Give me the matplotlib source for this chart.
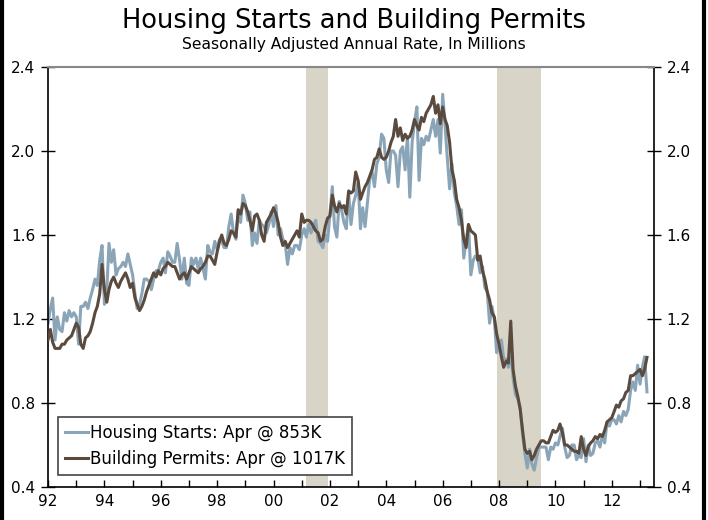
import numpy as np
import pandas as pd
import matplotlib
matplotlib.use("Agg")
import matplotlib.pyplot as plt
import matplotlib.dates as mdates
from matplotlib.lines import Line2D

# monthly, Jan 1992 - Apr 2013, millions of units (SAAR)
starts = [
    1.18, 1.25, 1.30, 1.10, 1.21, 1.15, 1.14, 1.23, 1.19, 1.24, 1.21, 1.23,  # 1992
    1.21, 1.08, 1.26, 1.26, 1.28, 1.25, 1.30, 1.34, 1.39, 1.36, 1.48, 1.55,  # 1993
    1.27, 1.34, 1.56, 1.47, 1.53, 1.41, 1.44, 1.45, 1.47, 1.45, 1.51, 1.46,  # 1994
    1.41, 1.32, 1.25, 1.27, 1.32, 1.39, 1.39, 1.38, 1.34, 1.39, 1.43, 1.43,  # 1995
    1.47, 1.49, 1.42, 1.52, 1.50, 1.47, 1.47, 1.56, 1.48, 1.39, 1.49, 1.37,  # 1996
    1.36, 1.49, 1.46, 1.49, 1.44, 1.49, 1.44, 1.39, 1.55, 1.52, 1.51, 1.57,  # 1997
    1.53, 1.58, 1.57, 1.54, 1.54, 1.64, 1.70, 1.61, 1.58, 1.72, 1.66, 1.79,  # 1998
    1.75, 1.67, 1.71, 1.55, 1.61, 1.56, 1.67, 1.65, 1.64, 1.61, 1.65, 1.71,  # 1999
    1.64, 1.74, 1.60, 1.63, 1.58, 1.56, 1.46, 1.54, 1.51, 1.55, 1.55, 1.53,  # 2000
    1.60, 1.63, 1.59, 1.65, 1.61, 1.64, 1.67, 1.57, 1.56, 1.54, 1.60, 1.57,  # 2001
    1.70, 1.83, 1.64, 1.59, 1.76, 1.72, 1.66, 1.63, 1.80, 1.65, 1.75, 1.79,  # 2002
    1.85, 1.63, 1.73, 1.64, 1.75, 1.87, 1.90, 1.83, 1.94, 1.97, 2.08, 2.06,  # 2003
    1.91, 1.85, 2.00, 2.00, 1.98, 1.83, 2.00, 2.02, 1.91, 2.07, 1.78, 2.04,  # 2004
    2.14, 2.21, 1.86, 2.06, 2.03, 2.07, 2.05, 2.10, 2.15, 2.07, 2.15, 1.99,  # 2005
    2.27, 2.12, 1.97, 1.82, 1.94, 1.80, 1.74, 1.65, 1.72, 1.49, 1.57, 1.65,  # 2006
    1.41, 1.48, 1.50, 1.49, 1.42, 1.45, 1.35, 1.33, 1.18, 1.26, 1.20, 1.04,  # 2007
    1.08, 1.10, 1.01, 1.01, 0.97, 1.05, 0.92, 0.84, 0.82, 0.78, 0.65, 0.56,  # 2008
    0.49, 0.58, 0.51, 0.48, 0.54, 0.59, 0.59, 0.59, 0.59, 0.53, 0.59, 0.58,  # 2009
    0.61, 0.60, 0.64, 0.68, 0.59, 0.54, 0.55, 0.60, 0.60, 0.53, 0.55, 0.54,  # 2010
    0.63, 0.52, 0.60, 0.55, 0.56, 0.61, 0.62, 0.59, 0.65, 0.61, 0.71, 0.69,  # 2011
    0.72, 0.72, 0.70, 0.74, 0.71, 0.76, 0.74, 0.77, 0.86, 0.90, 0.86, 0.98,  # 2012
    0.89, 0.97, 1.02, 0.853,                                                  # 2013
]

permits = [
    1.10, 1.15, 1.09, 1.06, 1.06, 1.06, 1.08, 1.08, 1.10, 1.11, 1.12, 1.15,  # 1992
    1.18, 1.16, 1.08, 1.06, 1.11, 1.12, 1.14, 1.18, 1.23, 1.26, 1.32, 1.46,  # 1993
    1.34, 1.28, 1.34, 1.38, 1.40, 1.37, 1.35, 1.38, 1.40, 1.42, 1.39, 1.35,  # 1994
    1.37, 1.30, 1.27, 1.24, 1.26, 1.29, 1.33, 1.36, 1.39, 1.42, 1.40, 1.43,  # 1995
    1.41, 1.44, 1.45, 1.47, 1.46, 1.45, 1.45, 1.42, 1.39, 1.41, 1.42, 1.39,  # 1996
    1.42, 1.45, 1.44, 1.43, 1.42, 1.44, 1.45, 1.47, 1.50, 1.50, 1.48, 1.46,  # 1997
    1.52, 1.57, 1.60, 1.56, 1.55, 1.58, 1.62, 1.61, 1.59, 1.72, 1.70, 1.75,  # 1998
    1.74, 1.71, 1.67, 1.62, 1.69, 1.70, 1.67, 1.60, 1.57, 1.66, 1.68, 1.70,  # 1999
    1.73, 1.70, 1.66, 1.59, 1.55, 1.57, 1.54, 1.56, 1.58, 1.60, 1.62, 1.59,  # 2000
    1.70, 1.66, 1.67, 1.67, 1.66, 1.64, 1.62, 1.61, 1.57, 1.58, 1.64, 1.68,  # 2001
    1.69, 1.79, 1.74, 1.71, 1.75, 1.73, 1.74, 1.70, 1.81, 1.80, 1.81, 1.90,  # 2002
    1.86, 1.77, 1.80, 1.83, 1.85, 1.88, 1.91, 1.96, 1.97, 2.01, 1.97, 1.96,  # 2003
    1.97, 2.00, 2.04, 2.07, 2.15, 2.07, 2.11, 2.05, 2.08, 2.06, 2.07, 2.10,  # 2004
    2.15, 2.12, 2.10, 2.16, 2.14, 2.18, 2.20, 2.22, 2.26, 2.18, 2.22, 2.13,  # 2005
    2.21, 2.15, 2.12, 2.04, 1.91, 1.86, 1.77, 1.73, 1.67, 1.58, 1.54, 1.65,  # 2006
    1.62, 1.61, 1.60, 1.48, 1.50, 1.43, 1.39, 1.33, 1.29, 1.23, 1.21, 1.13,  # 2007
    1.08, 1.02, 0.97, 1.00, 0.99, 1.19, 0.96, 0.88, 0.83, 0.77, 0.67, 0.58,  # 2008
    0.56, 0.57, 0.53, 0.55, 0.58, 0.60, 0.62, 0.62, 0.61, 0.61, 0.64, 0.67,  # 2009
    0.66, 0.67, 0.70, 0.66, 0.60, 0.60, 0.59, 0.58, 0.57, 0.57, 0.56, 0.64,  # 2010
    0.58, 0.55, 0.59, 0.61, 0.62, 0.64, 0.63, 0.65, 0.64, 0.67, 0.71, 0.72,  # 2011
    0.73, 0.76, 0.79, 0.78, 0.81, 0.82, 0.85, 0.86, 0.93, 0.93, 0.94, 0.95,  # 2012
    0.96, 0.93, 0.96, 1.017,                                                  # 2013
]

recessions = [("2001-03-01", "2001-12-01"), ("2007-12-01", "2009-07-01")]
labels = ["Housing Starts: Apr @ 853K", "Building Permits: Apr @ 1017K"]

dates = pd.date_range("1992-01-01", periods=len(starts), freq="MS")

fig = plt.figure(figsize=(7.08, 5.2), dpi=100)
ax = fig.add_axes([48 / 708, 33 / 520, 606 / 708, 420 / 520])

for a, b in recessions:
    ax.axvspan(pd.Timestamp(a), pd.Timestamp(b), color="#d8d4c8", lw=0, zorder=0)

ax.plot(dates, starts, color="#8aa5b8", lw=2.2, label=labels[0], zorder=2)
ax.plot(dates, permits, color="#5b4b3f", lw=2.2, label=labels[1], zorder=3)

ax.set_xlim(pd.Timestamp("1992-01-01"), pd.Timestamp("2013-07-01"))
ax.set_ylim(0.4, 2.4)
ax.set_yticks(np.arange(0.4, 2.41, 0.4))
ax.yaxis.set_major_formatter(plt.FormatStrFormatter("%.1f"))

ax.xaxis.set_major_locator(mdates.YearLocator(2))
ax.xaxis.set_minor_locator(mdates.YearLocator(1))
ax.xaxis.set_major_formatter(mdates.DateFormatter("%y"))

ax.tick_params(axis="y", which="both", direction="inout", length=10, width=1,
               left=True, right=True, labelleft=True, labelright=True,
               labelsize=11, pad=4)
ax.tick_params(axis="x", which="both", direction="in", length=5, width=1,
               labelsize=11, pad=5)

for side in ["left", "right", "bottom"]:
    ax.spines[side].set_color("black")
    ax.spines[side].set_linewidth(1.2)
ax.spines["top"].set_color("#888888")
ax.spines["top"].set_linewidth(1.5)

leg = ax.legend(loc="lower left", bbox_to_anchor=(0.0165, 0.029), fontsize=12,
                handlelength=1.4, handletextpad=0.15, borderpad=0.4,
                labelspacing=0.5, borderaxespad=0, fancybox=False, framealpha=1)
leg.get_frame().set_edgecolor("#444444")
leg.get_frame().set_linewidth(1.2)

fig.text(0.5, 1 - 21 / 520, "Housing Starts and Building Permits", ha="center",
         va="center", fontsize=18.5)
fig.text(0.5, 1 - 45 / 520, "Seasonally Adjusted Annual Rate, In Millions",
         ha="center", va="center", fontsize=11.2)

# black side bars of the frame
for xb in (1.5 / 708, 1 - 4 / 708):
    fig.add_artist(Line2D([xb, xb], [0, 1], transform=fig.transFigure,
                          color="black", lw=3))

fig.savefig("out.png", dpi=100)
